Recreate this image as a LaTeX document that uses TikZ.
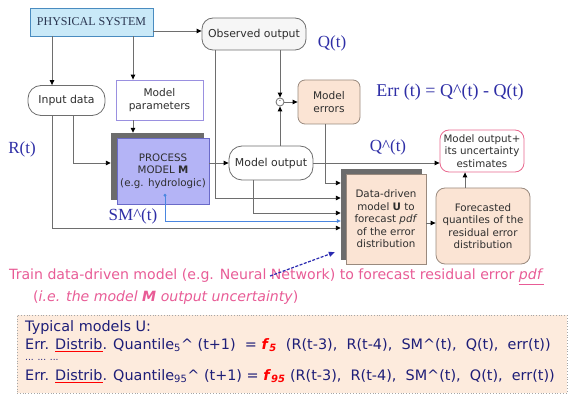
\documentclass[tikz,border=0pt]{standalone}
\usepackage{fontspec}
\setmainfont{DejaVu Sans}
\newfontfamily\tms{Liberation Serif}
\usetikzlibrary{arrows.meta,calc}
\definecolor{linegray}{HTML}{6E6E6E}
\definecolor{physfill}{HTML}{C9E9F8}
\definecolor{physdraw}{HTML}{4A8CC0}
\definecolor{procfill}{HTML}{B4B4F6}
\definecolor{procdraw}{HTML}{6A6AC8}
\definecolor{shadowgray}{HTML}{6C6C6C}
\definecolor{peach}{HTML}{FBE4D4}
\definecolor{peachdraw}{HTML}{9A8A7E}
\definecolor{pinkline}{HTML}{E8688E}
\definecolor{lavender}{HTML}{9A90E0}
\definecolor{lblblue}{HTML}{2E2EA6}
\definecolor{pinktext}{HTML}{E85C96}
\definecolor{navytext}{HTML}{1E1E78}
\definecolor{boxtext}{HTML}{2E2E2E}
\definecolor{smblue}{HTML}{4A86E0}
\definecolor{dashblue}{HTML}{2A2AB0}
\definecolor{bottomfill}{HTML}{FDEBDD}
\definecolor{phystext}{HTML}{2A3550}
\newcommand\redul[1]{\textcolor{red}{\underline{\textcolor{navytext}{#1}}}}
\begin{document}
\begin{tikzpicture}[x=1pt,y=-1pt,
  every node/.style={inner sep=0pt, text=boxtext},
  boxfont/.style={font=\fontsize{10.3}{12.5}\selectfont, align=center},
  bigfont/.style={font=\fontsize{10.9}{13}\selectfont},
  rbox/.style={boxfont, draw=linegray, line width=0.8pt, rounded corners=11pt},
  arr/.style={draw=linegray, line width=0.9pt, -{Triangle[length=5pt,width=4.5pt,color=black]}},
  smarr/.style={draw=smblue, line width=0.7pt, -{Triangle[length=4pt,width=3.5pt,color=smblue]}},
  dasharr/.style={draw=dashblue, line width=1.2pt, dashed, dash pattern=on 3pt off 1.5pt, -{Triangle[length=6pt,width=5pt,color=dashblue]}},
  lbl/.style={font=\tms\fontsize{17}{19}\selectfont, text=lblblue},
  shadowbox/.style={fill=shadowgray, draw=shadowgray},
  ]
\useasboundingbox (0,0) rectangle (569,403);

% boxes
\node[draw=physdraw, fill=physfill, line width=0.8pt, minimum width=123pt, minimum height=28pt,
      font=\tms\fontsize{12}{13}\selectfont, text=phystext] (phys) at (91.5,22) {PHYSICAL SYSTEM};
\node[rbox, bigfont, fill=gray!7, minimum width=104pt, minimum height=32pt] (obs) at (254,34) {Observed output};
\node[rbox, bigfont, fill=white, rounded corners=13pt, minimum width=77pt, minimum height=30pt] (inp) at (66.5,100.5) {Input data};
\node[boxfont, font=\fontsize{10.6}{13}\selectfont, draw=lavender, line width=0.8pt, fill=white, minimum width=87pt, minimum height=40pt] (par) at (159.5,100) {Model\\parameters};
\node[shadowbox, minimum width=92pt, minimum height=66pt] (procsh) at (157,166) {};
\node[boxfont, draw=procdraw, fill=procfill, line width=0.6pt, minimum width=92pt, minimum height=66pt] (proc) at (163,171)
  {PROCESS\\MODEL \textbf{M}\\(e.g. hydrologic)};
\node[rbox, bigfont, fill=white, rounded corners=13pt, minimum width=84pt, minimum height=34pt] (mout) at (271,163) {Model output};
\node[rbox, font=\fontsize{10.6}{13}\selectfont, fill=peach, draw=peachdraw, rounded corners=7pt, minimum width=62pt, minimum height=44pt] (err) at (329,102) {Model\\errors};
\node[rbox, fill=white, draw=pinkline, rounded corners=9pt, minimum width=84pt, minimum height=42pt] (mop) at (482,151)
  {Model output+\\its uncertainty\\estimates};
\node[shadowbox, minimum width=80pt, minimum height=90pt] (ddsh) at (381,214) {};
\node[boxfont, fill=peach, draw=peachdraw, line width=0.6pt, minimum width=80pt, minimum height=90pt] (dd) at (386,219)
  {Data-driven\\model \textbf{U} to\\forecast \textit{pdf}\\of the error\\distribution};
\node[rbox, fill=peach, draw=peachdraw, rounded corners=9pt, minimum width=94pt, minimum height=76pt] (fq) at (483,226)
  {Forecasted\\quantiles of the\\residual error\\distribution};
\node[circle, draw=linegray, fill=white, line width=0.8pt, minimum size=8pt, font=\fontsize{6}{6}\selectfont] (cmp) at (280,102) {-};

% helper coordinates
\coordinate (c0) at ([yshift=-9pt]phys.east);
\coordinate (c1) at ([xshift=-14.5pt]inp.north);
\coordinate (c2) at ([xshift=-26.5pt]par.north);
\coordinate (c3) at ([xshift=6.5pt]inp.south);
\coordinate (c4) at ([xshift=-39pt]obs.south);
\coordinate (c5) at ([yshift=16pt]ddsh.west);
\coordinate (c6) at ([xshift=-4pt]err.south);
\coordinate (c7) at ([yshift=31pt]ddsh.west);
\coordinate (c8) at ([xshift=-18pt]mout.south);
\coordinate (c9) at ([yshift=1pt]ddsh.west);
\coordinate (c10) at ([xshift=2pt,yshift=9pt]proc.south);
\coordinate (c11) at ([yshift=-7pt]ddsh.west);
\coordinate (c12) at ([xshift=-14.5pt]inp.south);
\coordinate (c13) at ([yshift=-14pt]ddsh.west);
\coordinate (c14) at ([yshift=-4pt]dd.east);
\coordinate (c15) at ([xshift=-18pt]fq.north);
\coordinate (c16) at (270,276);
\coordinate (c17) at ([xshift=-6pt,yshift=7pt]ddsh.south west);

% connectors
\draw[arr] (c0) -- (c0 -| obs.west);
\draw[arr] (phys.south -| c1) -- (c1);
\draw[arr] (phys.south -| c2) -- (c2);
\draw[arr] (par.south -| c2) -- (procsh.north -| c2);
\draw[arr] (c3) |- (procsh.west |- mout.west);
\draw[arr] (proc.east |- mout.west) -- (mout.west);
\draw[arr] (obs.south -| cmp) -- (cmp.north);
\draw[arr] (mout.north -| cmp) -- (cmp.south);
\draw[arr] (cmp.east) -- (err.west |- cmp);
\draw[arr] (c4) |- (c5);
\draw[arr] (c6) |- (c7);
\draw[arr] (c8) |- (c9);
\draw[arr] (c12) |- (c13);
\draw[arr] (mout.east) -- (mop.west |- mout.east);
\draw[arr] (c14) -- (c14 -| fq.west);
\draw[arr] (c15) -- (c15 |- mop.south);
\draw[smarr] (c10) |- (c11);
\fill[smblue] (c10) circle (1.6pt);

% labels
\node[lbl] (lq) at (332,43) {Q(t)};
\node[lbl, font=\tms\fontsize{18}{20}\selectfont] (lerr) at (450,92) {Err (t) = Q\textasciicircum(t) - Q(t)};
\node[lbl] (lr) at (22,149) {R(t)};
\node[lbl] (lsm) at (133,216) {SM\textasciicircum(t)};
\node[lbl] (lqh) at (388,147) {Q\textasciicircum(t)};

% pink text
\node[anchor=west, text=pinktext, font=\fontsize{14.1}{16}\selectfont] (train) at (9,277)
  {Train data-driven model (e.g. Neural Network) to forecast residual error \underline{\textit{pdf}}};
\node[anchor=west, text=pinktext, font=\fontsize{14.1}{16}\selectfont] (train2) at (33,298)
  {(\textit{i.e. the model \textbf{M} output uncertainty})};
\draw[dasharr] (c16) -- (c17);

% bottom box
\node[draw=gray!70, dotted, line width=0.8pt, fill=bottomfill, minimum width=550pt, minimum height=78pt] (typ) at (292,354) {};
\begin{scope}[every node/.style={inner sep=0pt, anchor=west, text=navytext, font=\fontsize{14.4}{16}\selectfont}]
\node (t1) at (25,328) {Typical models U:};
\node (t2) at (25,345) {Err. \redul{Distrib}. Quantile\textsubscript{5}\textasciicircum\ (t+1) \ = \textcolor{red}{\textbf{\textit{f}}\textsubscript{\textbf{\textit{5}}}} \ (R(t-3), \ R(t-4), \ SM\textasciicircum(t), \ Q(t), \ err(t))};
\node[font=\fontsize{9}{10}\selectfont] (t3) at (25,360) {... ... ...};
\node (t4) at (25,376) {Err. \redul{Distrib}. Quantile\textsubscript{95}\textasciicircum\ (t+1) = \textcolor{red}{\textbf{\textit{f}}\textsubscript{\textbf{\textit{95}}}} (R(t-3), \ R(t-4), \ SM\textasciicircum(t), \ Q(t), \ err(t))};
\end{scope}
\end{tikzpicture}
\end{document}
